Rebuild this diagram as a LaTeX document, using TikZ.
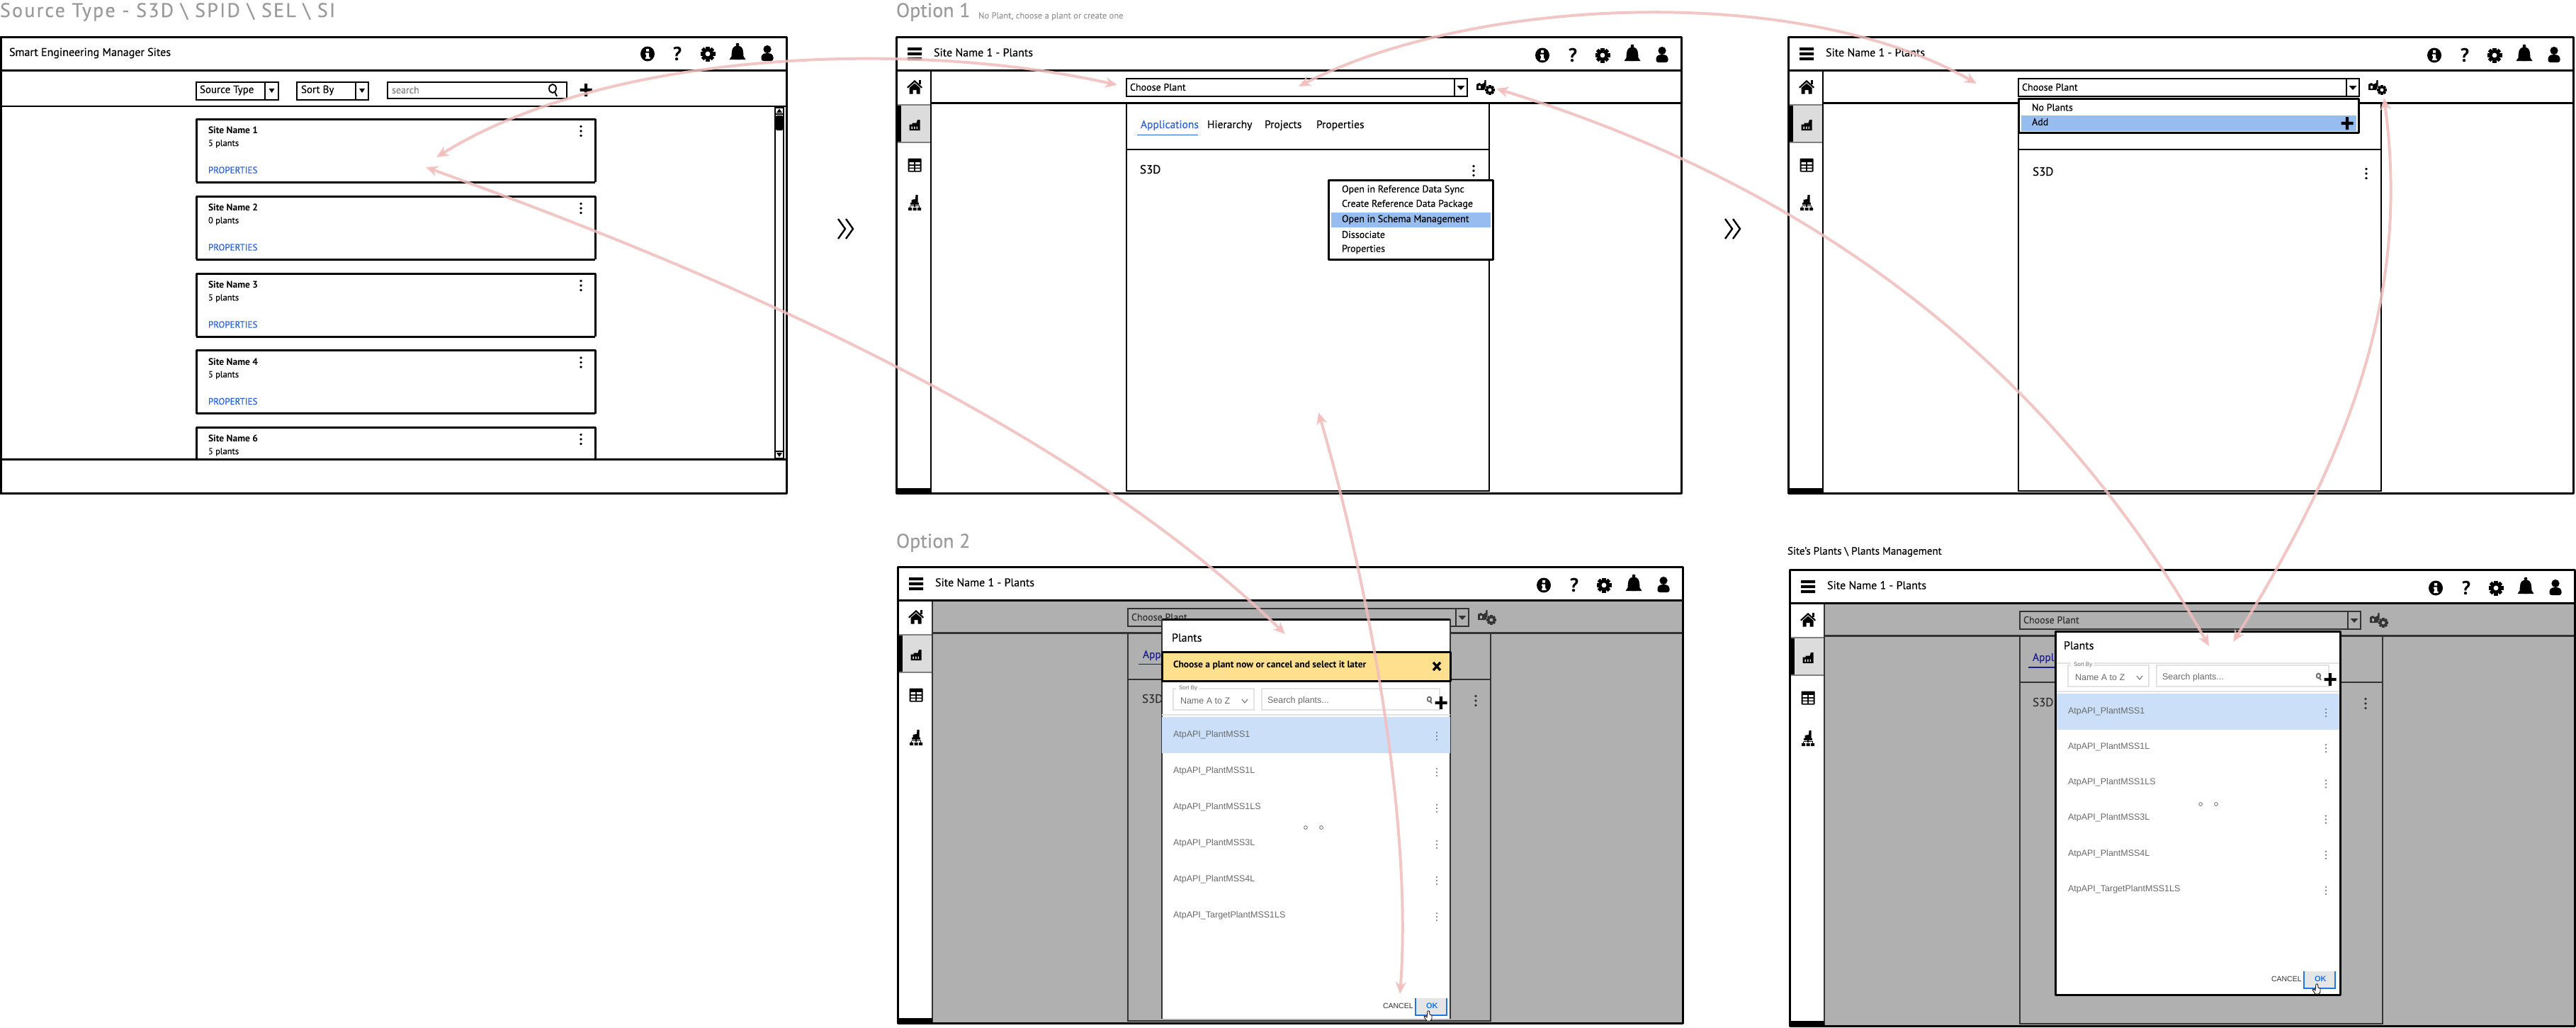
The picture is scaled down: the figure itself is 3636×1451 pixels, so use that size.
\documentclass[tikz,border=0pt]{standalone}
\usepackage{fontspec}
\setmainfont{PT Sans}[UprightFeatures={FakeBold=0.25}]
\newfontfamily\rob{Liberation Sans}
\usetikzlibrary{arrows.meta}
\definecolor{pinkline}{HTML}{F2BDBD}
\definecolor{titlegrey}{HTML}{9A9A9A}
\definecolor{dimgrey}{HTML}{B0B0B0}
\definecolor{dimink}{HTML}{333333}
\definecolor{linkblue}{HTML}{2A62D8}
\definecolor{okblue}{HTML}{1E78E0}
\definecolor{menublue}{HTML}{96BCF0}
\definecolor{listblue}{HTML}{CBDFF8}
\definecolor{warn}{HTML}{FFE08F}
\definecolor{selgrey}{HTML}{DCDCDC}
\definecolor{softline}{HTML}{E2E2E2}
\definecolor{itemgrey}{HTML}{6A6A6A}
\colorlet{iconbg}{white}
\newcount\nid
\newcommand\lbl[5][]{\global\advance\nid by 1
  \node[lblstyle,#1] (n\the\nid) at (#2,#3) {\fontsize{#4}{#4}\selectfont #5};}
\tikzset{
  lblstyle/.style={anchor=west,inner sep=0pt,outer sep=0pt},
  frameline/.style={line width=3pt,line join=round},
  thinline/.style={line width=2pt},
  flow/.style={line width=4pt,pinkline,opacity=.85,{Stealth[length=17pt,width=15pt,inset=5pt]}-{Stealth[length=17pt,width=15pt,inset=5pt]}},
  iinfo/.pic={\fill (0,0) ellipse[x radius=10,y radius=10.5];
    \fill[iconbg] (-1.8,-7) rectangle (2.2,-3.5) (-3,-1.5) rectangle (2.2,1) (-1.8,0) rectangle (2.2,5) (-3,4.5) rectangle (3.5,7);},
  ihelp/.pic={\node[inner sep=0pt] {\fontsize{27}{27}\selectfont\bfseries ?};},
  igear/.pic={\foreach \a in {0,45,90,135}{\fill[rotate=\a] (-2.6,-10.5) rectangle (2.6,10.5);}
    \fill (0,0) circle[radius=8]; \fill[iconbg] (0,0) circle[radius=3.4];},
  ibell/.pic={\fill (0,-13) circle[radius=2.4];
    \fill (-11.5,8) -- (-8.5,3.5) .. controls (-8,0) and (-9.5,-11.5) .. (0,-11.5) .. controls (9.5,-11.5) and (8,0) .. (8.5,3.5) -- (11.5,8) -- cycle;
    \fill (-3.2,8) arc[start angle=180,end angle=360,radius=3.2] -- cycle;},
  iuser/.pic={\fill (0,-6.5) circle[radius=5.6];
    \fill[rounded corners=3pt] (-8.5,10) -- (-8.5,2) -- (-4,-1) -- (4,-1) -- (8.5,2) -- (8.5,10) -- cycle;},
  iburger/.pic={\fill (-10,-9) rectangle (10,-5) (-10,-2) rectangle (10,2) (-10,5) rectangle (10,9);},
  ihome/.pic={\fill (-11,0) -- (0,-10) -- (11,0) -- (9.5,1.5) -- (0,-7) -- (-9.5,1.5) -- cycle;
    \fill (6,-10) rectangle (8.5,-4);
    \fill (-7.5,1) -- (0,-5.5) -- (7.5,1) -- (7.5,9.5) -- (2.5,9.5) -- (2.5,4) -- (-2.5,4) -- (-2.5,9.5) -- (-7.5,9.5) -- cycle;},
  ifactory/.pic={\fill (-7.5,7) -- (-7.5,-1.5) -- (-3.5,-1.5) -- (-3.5,-3.5) -- (2.5,-3.5) -- (4,-8) -- (7.5,-8) -- (7.5,7) -- cycle;
    \fill[iconbg] (-4.6,1.5) rectangle (-3,5) (-1,1.5) rectangle (0.6,5) (2.6,1.5) rectangle (4.2,5);},
  itable/.pic={\fill[rounded corners=1pt] (-9.5,-9.5) rectangle (9.5,9.5);
    \fill[white] (-7.5,-4) rectangle (-1,-.8) (1,-4) rectangle (7.5,-.8) (-7.5,1) rectangle (-1,3.6) (1,1) rectangle (7.5,3.6) (-7.5,5.2) rectangle (-1,7.8) (1,5.2) rectangle (7.5,7.8);},
  iorg/.pic={\fill (-4.5,-1) -- (-4.5,-5) -- (1,-6) -- (1.5,-12) -- (4.5,-12) -- (4.5,-1) -- cycle;
    \draw[line width=1.6pt] (0,-1) -- (0,5) (-6.5,3.5) -- (6.5,3.5) (-6.5,3.5) -- (-6.5,6) (6.5,3.5) -- (6.5,6);
    \fill (-9,6) rectangle (-4,10) (-2.5,6) rectangle (2.5,10) (4,6) rectangle (9,10);
    \fill (-6,-1) rectangle (6,2);},
  imanage/.pic={\fill (-13,3) -- (-13,-5) -- (-9,-7) -- (-6,-5) -- (-2,-7) -- (-1.5,-11) -- (.5,-11) -- (.5,-3) -- (-2,3) -- cycle;
    \fill[iconbg] (-10.5,-3) rectangle (-7.5,.5);
    \foreach \a in {0,45,90,135}{\fill[shift={(6,3)},rotate=\a] (-1.7,-7) rectangle (1.7,7);}
    \fill (6,3) circle[radius=5.2]; \fill[iconbg] (6,3) circle[radius=2.4];},
  ikebab/.pic={\fill (0,-6.5) circle[radius=1.9] (0,0) circle[radius=1.9] (0,6.5) circle[radius=1.9];},
  ikebabsoft/.pic={\fill (0,-5) circle[radius=1.2] (0,0) circle[radius=1.2] (0,5) circle[radius=1.2];},
  iplus/.pic={\fill (-8.5,-2.2) rectangle (8.5,2.2) (-2.2,-9) rectangle (2.2,9);},
  imag/.pic={\draw[line width=1.8pt] (-1,-2) ellipse[x radius=5,y radius=6]; \draw[line width=2pt] (2,3) -- (5,9);},
  icursor/.pic={\draw[black,fill=white,line width=.8pt] (-1,-7) -- (1.5,-7) -- (2,-2) -- (5,-1) -- (5,4) -- (3,7) -- (-2,7) -- (-6,1) -- (-4,0) -- (-2,2) -- cycle;},
}
% one screen: chrome, combo, column. #1 L, #2 T, #3 org icon offset, #4 body fill, #5 ink
\newcommand\screen[5]{%
\begin{scope}[shift={(#1,#2)},color=#5]
  \colorlet{iconbg}{#4}
  \fill[#4] (0,47) rectangle (1108,644);
  \fill[white] (0,0) rectangle (1108,47);
  \fill[white] (0,47) rectangle (49,644);
  % column + bars
  \draw[thinline] (325,94) rectangle (837,641);
  \draw[thinline] (325,159) -- (837,159);
  \draw[frameline] (49,93) -- (1108,93);
  % selected entry
  \fill[selgrey] (0,96) rectangle (49,149);
  \draw[line width=2.5pt,gray] (0,96) rectangle (49,149);
  \fill[black] (-1,97) rectangle (7,148);
  \draw[thinline] (49,47) -- (49,644);
  \fill[black] (-1,637) rectangle (49,645);
  \draw[black,frameline] (0,0) rectangle (1108,644);
  \draw[black,frameline] (0,47) -- (1108,47);
  \lbl[black]{53}{22}{16}{Site Name 1 - Plants}
  \begin{scope}[color=black]\colorlet{iconbg}{white}
    \pic at (26,24) {iburger};
    \pic at (912,26) {iinfo};
    \pic at (955,26) {ihelp};
    \pic at (997,26) {igear};
    \pic at (1039,26) {ibell};
    \pic at (1081,26) {iuser};
    \pic at (26,71) {ihome};
    \begin{scope}\colorlet{iconbg}{selgrey}\pic at (26,125) {ifactory};\end{scope}
    \pic at (26,181) {itable};
    \pic at (26,#3) {iorg};
  \end{scope}
  \fill[#4] (325,59) rectangle (806,84);
  \draw[thinline] (325,59) rectangle (806,84);
  \draw[thinline] (788,59) -- (788,84);
  \fill (791.5,69) -- (802.5,69) -- (797,75) -- cycle;
  \lbl{330}{71}{14}{Choose Plant}
  \pic at (832,72) {imanage};
\end{scope}}
% card
\newcommand\card[3]{%
  \fill[white] (277,#1) rectangle (840,{min(#1+89,648)});
  \draw[frameline] (277,{min(#1+89,648)}) -- (277,#1) -- (840,#1) -- (840,{min(#1+89,648)});
  \ifdim #1pt<600pt \draw[frameline] (277,#1+89) -- (840,#1+89); \lbl[linkblue]{294}{#1+72}{13}{PROPERTIES} \fi
  \lbl{294}{#1+16}{13.5}{\bfseries #2}
  \lbl{294}{#1+35}{12.5}{#3}
  \pic at (820,#1+17) {ikebab};}
% combo of the first screen
\newcommand\combo[5]{%
  \draw[thinline] (#1,116) rectangle (#3,141);
  \draw[thinline] (#2,116) -- (#2,141);
  \fill ({(#2+#3)/2-4},125) -- ({(#2+#3)/2+4},125) -- ({(#2+#3)/2},131) -- cycle;
  \lbl{#4}{127.5}{15}{#5}}
% list in a dialog: #1 dialog x, #2 highlight top, #3 step, #4 dialog width
\newcommand\plantlist[4]{%
  \begin{scope}[shift={(#1,#2)}]
  \draw[softline,line width=1.4pt] (16,-40) rectangle (130,-10);
  \draw[softline,line width=1.4pt] (141,-40) rectangle ({#4-15},-10);
  \draw[softline,line width=1.6pt] (0,-3) -- (#4,-3);
  \fill[white] (20,-44) rectangle (52,-36);
  \lbl[itemgrey]{24}{-40}{8}{\rob Sort By}
  \lbl[itemgrey]{26}{-23}{12.5}{\rob Name A to Z}
  \draw[itemgrey,line width=1pt] (113,-25) -- (117,-20) -- (121,-25);
  \lbl[itemgrey]{149}{-23}{12.5}{\rob Search plants...}
  \pic[itemgrey,scale=.55] at ({#4-29},-24) {imag};
  \pic[black] at ({#4-13},-20) {iplus};
  \fill[listblue] (0,0) rectangle (#4,51);
  \foreach \i/\tname in {0/AtpAPI\_PlantMSS1,1/AtpAPI\_PlantMSS1L,2/AtpAPI\_PlantMSS1LS,3/AtpAPI\_PlantMSS3L,4/AtpAPI\_PlantMSS4L,5/AtpAPI\_TargetPlantMSS1LS}{
    \lbl[itemgrey]{16}{25+\i*#3}{12.5}{\rob \tname}
    \pic[itemgrey] at ({#4-19},{27+\i*#3}) {ikebabsoft};
  }
  \draw[itemgrey,line width=.8pt] (203,156) circle[radius=2.4] (225,156) circle[radius=2.4];
  \end{scope}}
\newcommand\okbtn[2]{%
  \lbl[dimink]{#1-46}{#2+11}{10.5}{\rob CANCEL}
  \fill[black!10] (#1,#2) rectangle (#1+44,#2+24);
  \draw[okblue,line width=1.2pt] (#1,#2) -- (#1,#2+24) -- (#1+44,#2+24) -- (#1+44,#2);
  \lbl[okblue]{#1+15}{#2+11}{11}{\rob\bfseries OK}
  \pic at (#1+18,#2+25) {icursor};}
\begin{document}
\begin{tikzpicture}[x=1pt,y=-1pt]
\useasboundingbox (0,0) rectangle (3636,1451);
\fill[white] (0,0) rectangle (3636,1451);

% ---------- titles
\lbl[titlegrey]{0}{17}{28}{\addfontfeature{LetterSpace=8}Source Type - S3D \textbackslash\ SPID \textbackslash\ SEL \textbackslash\ SI}
\lbl[titlegrey]{1265}{17}{28}{Option 1}
\lbl[titlegrey]{1381}{23}{12.5}{No Plant, choose a plant or create one}
\lbl[titlegrey]{1265}{766}{28}{Option 2}
\lbl{2523}{779}{15}{Site's Plants \textbackslash\ Plants Management}

% ---------- first screen
\draw[frameline] (1,52) rectangle (1110,696);
\draw[frameline] (1,99) -- (1110,99);
\draw[thinline] (1,150) -- (1110,150);
\lbl{13}{75}{16}{Smart Engineering Manager Sites}
\pic at (914,76) {iinfo};
\pic at (956,76) {ihelp};
\pic at (999,76) {igear};
\pic at (1041,76) {ibell};
\pic at (1083,76) {iuser};
\combo{277}{374}{393}{282}{Source Type}
\combo{419}{502}{520}{425}{Sort By}
\draw[thinline] (547,116) rectangle (800,139);
\lbl[gray]{553}{127}{14}{search}
\pic at (781,127) {imag};
\pic at (827,127) {iplus};
\card{168}{Site Name 1}{5 plants}
\card{277}{Site Name 2}{0 plants}
\card{386}{Site Name 3}{5 plants}
\card{494.5}{Site Name 4}{5 plants}
\card{603}{Site Name 6}{5 plants}
\draw[frameline] (1,648) -- (1110,648);
\draw[line width=1.6pt] (1094,151) rectangle (1106,648);
\draw[line width=1.4pt,fill=white] (1094,152) rectangle (1106,161);
\fill (1096,159) -- (1104,159) -- (1100,153.5) -- cycle;
\fill[rounded corners=1.5pt] (1095,163) rectangle (1105,184);
\draw[line width=1.4pt,fill=white] (1094,637) rectangle (1106,647);
\fill (1096,639) -- (1104,639) -- (1100,645) -- cycle;
% chevrons
\draw[line width=2.4pt] (1183,309) -- (1193,323) -- (1183,337) (1194,309) -- (1204,323) -- (1194,337);
\draw[line width=2.4pt] (2435,309) -- (2445,323) -- (2435,337) (2446,309) -- (2456,323) -- (2446,337);

% ---------- option 1
\screen{1265}{52}{235}{white}{black}
\lbl[linkblue]{1610}{177}{15.5}{Applications}
\draw[linkblue,line width=1.6pt] (1605,190.5) -- (1691,190.5);
\lbl{1704}{177}{15.5}{Hierarchy}
\lbl{1785}{177}{15.5}{Projects}
\lbl{1858}{177}{15.5}{Properties}
\lbl{1609}{239}{17}{S3D}
\pic at (2080,241) {ikebab};
\draw[frameline,fill=white] (1875,254) rectangle (2107,366);
\fill[menublue] (1879,300) rectangle (2104,320.5);
\lbl{1894}{268}{14}{Open in Reference Data Sync}
\lbl{1894}{288.5}{14}{Create Reference Data Package}
\lbl{1894}{310}{14}{Open in Schema Management}
\lbl{1894}{331}{14}{Dissociate}
\lbl{1894}{352}{14}{Properties}

% ---------- first step after option 1
\screen{2524}{52}{235}{white}{black}
\lbl{2869}{242}{17}{S3D}
\pic at (3340,245) {ikebab};
\draw[frameline,fill=white] (2849,139) rectangle (3329,187);
\fill[menublue] (2853,163) rectangle (3326,184.5);
\lbl{2868}{151.5}{14}{No Plants}
\lbl{2868}{172}{14}{Add}
\pic at (3313,174) {iplus};

% ---------- option 2
\screen{1267}{800}{242}{dimgrey}{dimink}
\lbl[color=blue!45!dimink]{1613}{925}{15.5}{Applications}
\draw[blue!45!dimink,line width=1.6pt] (1607,937.5) -- (1692,937.5);
\lbl[dimink]{1612}{986}{17}{S3D}
\pic[dimink] at (2083,989) {ikebab};
\fill[white] (1640,874) rectangle (2047,1438);
\draw[frameline] (1640,874) -- (2047,874);
\draw[dimink,line width=1.4pt] (1640,874) -- (1640,1438) (2047,874) -- (2047,1438);
\lbl{1654}{900}{16}{Plants}
\draw[frameline,fill=warn] (1640,920) rectangle (2047,961);
\lbl{1656}{939}{13.5}{\bfseries Choose a plant now or cancel and select it later}
\draw[line width=3.4pt] (2023,935) -- (2033,946) (2033,935) -- (2023,946);
\plantlist{1640}{1012}{51}{407}
\okbtn{1998}{1409}

% ---------- plants management
\screen{2526}{804}{239}{dimgrey}{dimink}
\lbl[color=blue!45!dimink]{2869}{929}{15.5}{Applications}
\draw[blue!45!dimink,line width=1.6pt] (2863,942) -- (2950,942);
\lbl[dimink]{2869}{991}{17}{S3D}
\pic[dimink] at (3339,993) {ikebab};
\draw[frameline,fill=white] (2901,891) rectangle (3303.5,1404.5);
\lbl{2913}{911}{16}{Plants}
\draw[softline,line width=1.4pt] (2903,936) -- (3302,936);
\plantlist{2903}{979}{50.2}{399}
\okbtn{3252}{1371}

% ---------- connectors
\coordinate (c1a) at (616,222);   \coordinate (c1b) at (1577,120);
\coordinate (c2a) at (601,236);   \coordinate (c2b) at (1814,895);
\coordinate (c3a) at (1833,122);  \coordinate (c3b) at (2790,118);
\coordinate (c4a) at (2112,125);  \coordinate (c4b) at (3118,912);
\coordinate (c5a) at (3365,138);  \coordinate (c5b) at (3152,906);
\coordinate (c6a) at (1861,582);  \coordinate (c6b) at (1976,1403);
\draw[flow] (c1a) .. controls (860,70) and (1290,55) .. (c1b);
\draw[flow] (c2a) .. controls (1000,380) and (1500,590) .. (c2b);
\draw[flow] (c3a) .. controls (2080,-5) and (2540,-25) .. (c3b);
\draw[flow] (c4a) .. controls (2450,230) and (2846,432) .. (c4b);
\draw[flow] (c5a) .. controls (3400,400) and (3330,620) .. (c5b);
\draw[flow] (c6a) .. controls (1925,800) and (1995,1150) .. (c6b);
\end{tikzpicture}
\end{document}
